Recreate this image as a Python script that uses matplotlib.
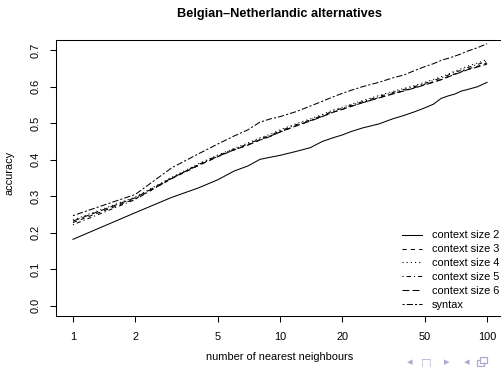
import matplotlib
matplotlib.use("Agg")
import matplotlib.pyplot as plt
from matplotlib.patches import Rectangle

plt.rcParams['font.family'] = ['Liberation Sans', 'DejaVu Sans']
plt.rcParams['lines.scale_dashes'] = False

k = [1, 2, 3, 4, 5, 6, 7, 8, 9, 10, 12, 14, 16, 18, 20, 22, 25, 30, 35, 40,
     45, 50, 55, 60, 65, 70, 75, 80, 90, 100]

ctx2 = [0.182, 0.255, 0.297, 0.322, 0.345, 0.369, 0.383, 0.401, 0.407, 0.412,
        0.423, 0.433, 0.450, 0.460, 0.468, 0.477, 0.487, 0.498, 0.512, 0.522,
        0.532, 0.542, 0.552, 0.568, 0.575, 0.580, 0.588, 0.592, 0.600, 0.612]
ctx3 = [0.228, 0.293, 0.348, 0.383, 0.408, 0.427, 0.441, 0.455, 0.465, 0.476,
        0.493, 0.507, 0.519, 0.530, 0.538, 0.546, 0.556, 0.570, 0.581, 0.590,
        0.598, 0.606, 0.613, 0.620, 0.628, 0.635, 0.641, 0.648, 0.656, 0.665]
ctx4 = [0.235, 0.298, 0.352, 0.388, 0.413, 0.431, 0.446, 0.460, 0.470, 0.482,
        0.499, 0.512, 0.524, 0.536, 0.544, 0.552, 0.562, 0.576, 0.587, 0.596,
        0.604, 0.612, 0.620, 0.627, 0.635, 0.643, 0.649, 0.656, 0.665, 0.675]
ctx5 = [0.222, 0.291, 0.349, 0.386, 0.411, 0.429, 0.443, 0.457, 0.467, 0.479,
        0.496, 0.509, 0.521, 0.533, 0.541, 0.549, 0.559, 0.573, 0.584, 0.593,
        0.601, 0.609, 0.617, 0.624, 0.632, 0.640, 0.645, 0.652, 0.661, 0.670]
ctx6 = [0.232, 0.296, 0.350, 0.384, 0.409, 0.427, 0.440, 0.454, 0.464, 0.476,
        0.493, 0.506, 0.518, 0.530, 0.538, 0.546, 0.556, 0.569, 0.580, 0.589,
        0.597, 0.605, 0.612, 0.619, 0.627, 0.634, 0.640, 0.646, 0.654, 0.662]
syntax = [0.247, 0.305, 0.378, 0.415, 0.443, 0.465, 0.482, 0.503, 0.512, 0.518,
          0.532, 0.547, 0.560, 0.572, 0.582, 0.590, 0.600, 0.612, 0.624, 0.633,
          0.645, 0.655, 0.663, 0.672, 0.678, 0.684, 0.690, 0.697, 0.707, 0.718]

labels = ['context size 2', 'context size 3', 'context size 4',
          'context size 5', 'context size 6', 'syntax']
series = [ctx2, ctx3, ctx4, ctx5, ctx6, syntax]
xticks = [1, 2, 5, 10, 20, 50, 100]
yticks = [0.0, 0.1, 0.2, 0.3, 0.4, 0.5, 0.6, 0.7]

styles = ['-', (0, (3, 3)), (0, (0.8, 2.2)), (0, (0.8, 2.2, 3, 2.2)),
          (0, (5, 2.2)), (0, (1.5, 1.5, 4.5, 1.5))]

W, H = 502, 367
fig = plt.figure(figsize=(W / 100, H / 100), dpi=100)
L, R, T, B = 56.4, 503.6, 40, 316
ax = fig.add_axes([L / W, 1 - B / H, (R - L) / W, (B - T) / H])

for s, lab, ls in zip(series, labels, styles):
    ax.plot(k, s, color='black', lw=0.75, linestyle=ls, label=lab)

ax.set_xscale('log')
ax.set_xlim(10 ** -0.08, 10 ** 2.08)
ax.set_ylim(-0.028, 0.728)
ax.set_xticks(xticks)
ax.set_xticklabels([str(t) for t in xticks])
ax.minorticks_off()
ax.set_yticks(yticks)
ax.set_yticklabels([f'{t:.1f}' for t in yticks], rotation=90, va='center')
ax.tick_params(direction='out', length=4.3, width=0.75, labelsize=7.9,
               color='black')
ax.tick_params(axis='x', pad=7)
ax.tick_params(axis='y', pad=7)
for sp in ax.spines.values():
    sp.set_linewidth(0.75)

leg = fig.legend(*ax.get_legend_handles_labels(), loc='upper left',
                 bbox_to_anchor=(402 / W, 1 - 230.5 / H),
                 frameon=False, fontsize=7.9, handlelength=1.82,
                 handletextpad=0.91, labelspacing=0.35, borderpad=0,
                 borderaxespad=0)

fig.text((L + R) / 2 / W, 1 - 357 / H, 'number of nearest neighbours',
         ha='center', va='center', fontsize=7.9)
fig.text(10 / W, 1 - 173 / H, 'accuracy', ha='center', va='center',
         rotation=90, fontsize=7.9)
fig.text(280 / W, 1 - 14 / H, 'Belgian\u2013Netherlandic alternatives',
         ha='center', va='center', fontsize=9.2, fontweight='bold')

nav = '#a9a9d2'
for x, ch in [(410, '\u25c2'), (426.7, '\u25a1'), (446.7, '\u25b8'),
              (466.7, '\u25c2')]:
    fig.text(x / W, 1 - 362 / H, ch, ha='center', va='center', fontsize=8,
             color=nav, family='DejaVu Sans')
# beamer "frame" navigation icon: two overlapping small rectangles
for dx, dy in [(0, 0), (3, 3)]:
    fig.add_artist(Rectangle(((477 + dx) / W, (1 - (366 - dy) / H)),
                             7 / W, 6 / H, transform=fig.transFigure,
                             facecolor='white', edgecolor=nav, lw=0.9))

fig.savefig('out.png', dpi=100)
